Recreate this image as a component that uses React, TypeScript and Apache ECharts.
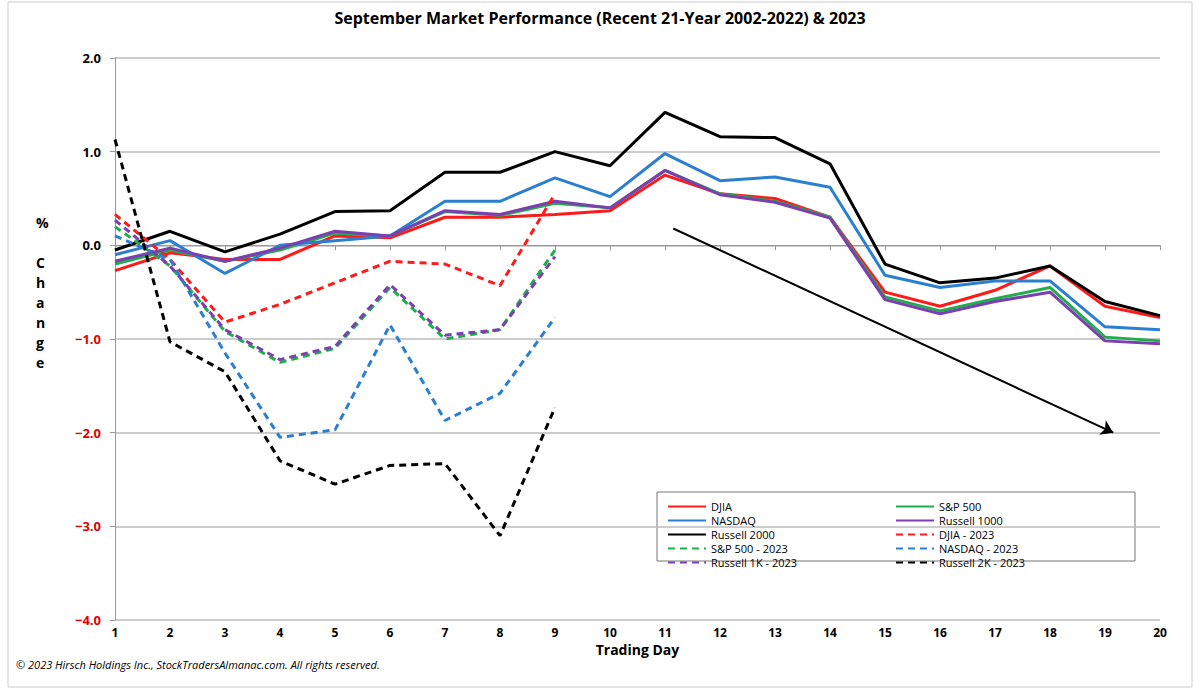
import React, { useEffect, useRef } from 'react';
import * as echarts from 'echarts';

const days = [1, 2, 3, 4, 5, 6, 7, 8, 9, 10, 11, 12, 13, 14, 15, 16, 17, 18, 19, 20];

const djia = [-0.27, -0.08, -0.15, -0.15, 0.1, 0.08, 0.3, 0.3, 0.33, 0.37, 0.75, 0.55, 0.5, 0.3, -0.5, -0.65, -0.48, -0.22, -0.65, -0.77];
const sp500 = [-0.2, -0.05, -0.17, -0.05, 0.13, 0.1, 0.36, 0.32, 0.45, 0.4, 0.8, 0.55, 0.47, 0.3, -0.55, -0.7, -0.57, -0.45, -0.98, -1.02];
const nasdaq = [-0.1, 0.05, -0.3, 0, 0.05, 0.1, 0.47, 0.47, 0.72, 0.52, 0.98, 0.69, 0.73, 0.62, -0.32, -0.45, -0.38, -0.38, -0.87, -0.9];
const russell1000 = [-0.17, -0.03, -0.17, -0.03, 0.15, 0.1, 0.37, 0.33, 0.47, 0.4, 0.8, 0.54, 0.46, 0.29, -0.58, -0.73, -0.6, -0.5, -1.02, -1.05];
const russell2000 = [-0.05, 0.15, -0.07, 0.12, 0.36, 0.37, 0.78, 0.78, 1.0, 0.85, 1.42, 1.16, 1.15, 0.87, -0.2, -0.4, -0.35, -0.22, -0.6, -0.75];

const djia2023 = [0.33, -0.15, -0.82, -0.63, -0.4, -0.17, -0.2, -0.43, 0.55];
const sp2023 = [0.2, -0.22, -0.92, -1.25, -1.1, -0.45, -1.0, -0.9, -0.05];
const nasdaq2023 = [0.1, -0.15, -1.15, -2.05, -1.97, -0.85, -1.87, -1.58, -0.77];
const r1k2023 = [0.27, -0.22, -0.9, -1.22, -1.08, -0.42, -0.96, -0.9, -0.12];
const r2k2023 = [1.13, -1.03, -1.35, -2.3, -2.55, -2.35, -2.33, -3.1, -1.73];

const trendArrow = [[11.15, 0.18], [19.15, -2.0]];

const FONT = 'Open Sans';

const App: React.FC = () => {
  const chartRef = useRef<HTMLDivElement>(null);

  useEffect(() => {
    const chart = echarts.init(chartRef.current!, null, { renderer: 'svg' });

    const line = (name: string, values: number[], color: string, dashed: boolean) => ({
      name,
      type: 'line',
      data: values.map((v, i) => [days[i], v]),
      symbol: 'none',
      lineStyle: { color, width: 3, type: dashed ? [7, 5] : 'solid' },
      itemStyle: { color },
    });

    const legendCommon = {
      orient: 'vertical',
      top: 496,
      itemWidth: 38,
      itemHeight: 11,
      itemGap: 3,
      itemStyle: { opacity: 0 },
      textStyle: { fontFamily: FONT, fontSize: 11, color: '#000' },
    };

    const option = {
      animation: false,
      title: {
        text: 'September Market Performance (Recent 21-Year 2002-2022) & 2023',
        left: 'center',
        top: 5,
        textStyle: { fontFamily: FONT, fontSize: 16, fontWeight: 'bold', color: '#000' },
      },
      grid: { left: 115, right: 40, top: 58, bottom: 69 },
      legend: [
        {
          ...legendCommon,
          left: 662,
          data: ['DJIA', 'NASDAQ', 'Russell 2000', 'S&P 500 - 2023', 'Russell 1K - 2023'],
        },
        {
          ...legendCommon,
          left: 890,
          data: ['S&P 500', 'Russell 1000', 'DJIA - 2023', 'NASDAQ - 2023', 'Russell 2K - 2023'],
        },
      ],
      xAxis: {
        type: 'value',
        min: 1,
        max: 20,
        interval: 1,
        name: 'Trading Day',
        nameLocation: 'middle',
        nameGap: 19,
        nameTextStyle: { fontFamily: FONT, fontSize: 14, fontWeight: 'bold', color: '#000' },
        axisLine: { lineStyle: { color: '#999' } },
        axisTick: { show: true, length: 5, lineStyle: { color: '#999' } },
        splitLine: { show: false },
        axisLabel: { fontFamily: FONT, fontSize: 12, fontWeight: 'bold', color: '#000', margin: 6 },
      },
      yAxis: {
        type: 'value',
        min: -4,
        max: 2,
        interval: 1,
        axisLine: { show: true, lineStyle: { color: '#999' } },
        axisTick: { show: true, length: 5, lineStyle: { color: '#999' } },
        splitLine: { lineStyle: { color: '#bbb', width: 1.5 } },
        axisLabel: {
          margin: 14,
          formatter: (v: number) => (v < 0 ? '{n|' + '\u2212' + Math.abs(v).toFixed(1) + '}' : '{p|' + v.toFixed(1) + '}'),
          rich: {
            n: { color: '#e00000', fontFamily: FONT, fontSize: 13, fontWeight: 'bold' },
            p: { color: '#000', fontFamily: FONT, fontSize: 13, fontWeight: 'bold' },
          },
        },
      },
      graphic: [
        { type: 'rect', shape: { x: 8, y: 2, width: 1184, height: 685 }, style: { fill: 'none', stroke: '#ccc', lineWidth: 1 } },
        { type: 'rect', shape: { x: 657, y: 492, width: 478, height: 69 }, style: { fill: '#fff', stroke: '#777', lineWidth: 1 }, z: -1 },
        {
          type: 'text',
          left: 36,
          top: 212,
          style: { text: '%\n\nC\nh\na\nn\ng\ne', fontFamily: FONT, fontSize: 14, fontWeight: 'bold', fill: '#000', lineHeight: 20, align: 'center' },
        },
        {
          type: 'text',
          left: 16,
          top: 659,
          style: {
            text: '\u00a9 2023 Hirsch Holdings Inc., StockTradersAlmanac.com. All rights reserved.',
            fontFamily: FONT,
            fontSize: 11,
            fontStyle: 'italic',
            fill: '#000',
          },
        },
      ],
      series: [
        line('DJIA', djia, '#ff1a1a', false),
        line('S&P 500', sp500, '#1fae4b', false),
        line('NASDAQ', nasdaq, '#2a7fd0', false),
        line('Russell 1000', russell1000, '#7b3fb0', false),
        line('Russell 2000', russell2000, '#000000', false),
        line('DJIA - 2023', djia2023, '#ff1a1a', true),
        line('S&P 500 - 2023', sp2023, '#1fae4b', true),
        line('NASDAQ - 2023', nasdaq2023, '#2a7fd0', true),
        line('Russell 1K - 2023', r1k2023, '#7b3fb0', true),
        line('Russell 2K - 2023', r2k2023, '#000000', true),
        {
          type: 'line',
          data: [],
          symbol: 'none',
          silent: true,
          markLine: {
            silent: true,
            symbol: ['none', 'arrow'],
            symbolSize: 12,
            label: { show: false },
            lineStyle: { color: '#000', width: 2, type: 'solid' },
            data: [[{ coord: trendArrow[0] }, { coord: trendArrow[1] }]],
          },
        },
      ],
    };

    chart.setOption(option as any);
    return () => {
      chart.dispose();
    };
  }, []);

  return <div ref={chartRef} style={{ position: 'absolute', left: 0, top: 0, width: 1200, height: 689, background: '#fff' }} />;
};

export default App;
